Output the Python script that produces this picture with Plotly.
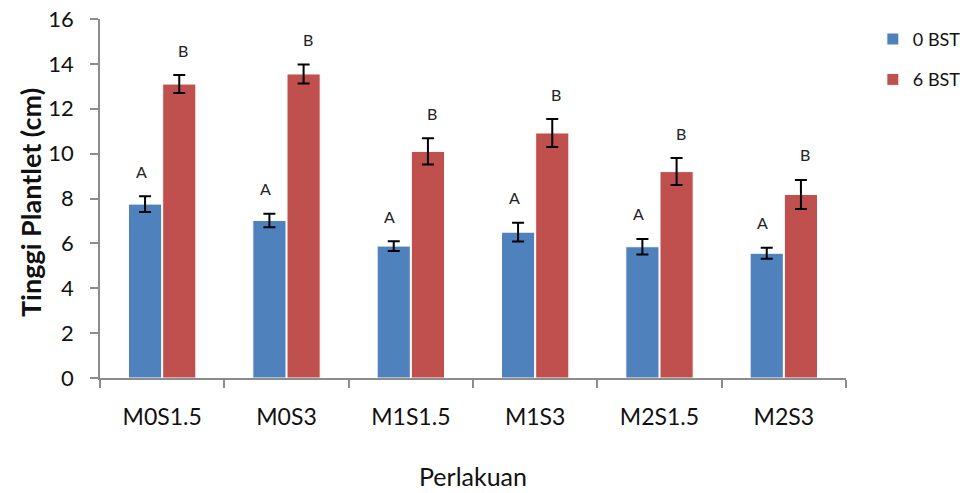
import plotly.graph_objects as go

categories = ["M0S1.5", "M0S3", "M1S1.5", "M1S3", "M2S1.5", "M2S3"]
bst0 = [7.75, 7.02, 5.88, 6.50, 5.85, 5.56]
bst0_err = [0.35, 0.30, 0.22, 0.42, 0.35, 0.25]
bst6 = [13.10, 13.55, 10.10, 10.92, 9.20, 8.18]
bst6_err = [0.40, 0.42, 0.58, 0.62, 0.60, 0.65]
letters0 = ["A"] * 6
letters6 = ["B"] * 6

FONT = "Lato, Open Sans, sans-serif"
blue = "#4F81BD"
red = "#C0504D"
gray = "#8c8c8c"

fig = go.Figure()
fig.add_trace(go.Bar(
    name="0 BST", x=categories, y=bst0, marker=dict(color=blue, line=dict(color="white", width=1)),
    error_y=dict(type="data", array=bst0_err, color="black", thickness=2, width=6),
    legendgroup="a"))
fig.add_trace(go.Bar(
    name="6 BST", x=categories, y=bst6, marker=dict(color=red, line=dict(color="white", width=1)),
    error_y=dict(type="data", array=bst6_err, color="black", thickness=2, width=6),
    legendgroup="b"))

for i, c in enumerate(categories):
    for vals, errs, labs, off in ((bst0, bst0_err, letters0, -0.17), (bst6, bst6_err, letters6, 0.17)):
        fig.add_annotation(x=i + off, y=vals[i] + errs[i], text=labs[i], showarrow=False,
                           yshift=25, xref="x", yref="y",
                           font=dict(family=FONT, size=16, color="#222"))

fig.add_annotation(text="<b>Tinggi Plantlet (cm)</b>", textangle=-90, showarrow=False,
                   xref="paper", yref="paper", x=-0.094, y=0.49, xanchor="center", yanchor="middle",
                   font=dict(family=FONT, size=27, color="#111"))
fig.add_annotation(text="Perlakuan", showarrow=False,
                   xref="paper", yref="paper", x=0.5, y=-0.272, xanchor="center", yanchor="middle",
                   font=dict(family=FONT, size=25, color="#111"))

fig.update_layout(
    width=966, height=493,
    margin=dict(l=100, r=120, t=19, b=115, autoexpand=False),
    paper_bgcolor="white", plot_bgcolor="white",
    barmode="group", bargap=0.45, bargroupgap=0.03,
    font=dict(family=FONT, color="#111"),
    showlegend=True,
    legend=dict(x=1.036, y=0.995, xanchor="left", yanchor="top",
                font=dict(family=FONT, size=18, color="#111"),
                tracegroupgap=14, itemwidth=30, traceorder="grouped"),
    xaxis=dict(
        type="category", tickson="boundaries", showline=True, linecolor=gray, linewidth=1.5,
        ticks="outside", ticklen=8, tickcolor=gray, tickwidth=1.5, ticklabelstandoff=18,
        tickfont=dict(family=FONT, size=23, color="#111"),
        showgrid=False, range=[-0.5, 5.5], automargin=False),
    yaxis=dict(
        range=[0, 16], dtick=2, showline=True, linecolor=gray, linewidth=1.5,
        ticks="outside", ticklen=8, tickcolor=gray, tickwidth=1.5, ticklabelstandoff=12,
        tickfont=dict(family=FONT, size=22, color="#111"),
        showgrid=False, zeroline=False, automargin=False),
)

fig.write_html("out.html", config={"displayModeBar": False},
               post_script="document.body.style.margin='0';")
